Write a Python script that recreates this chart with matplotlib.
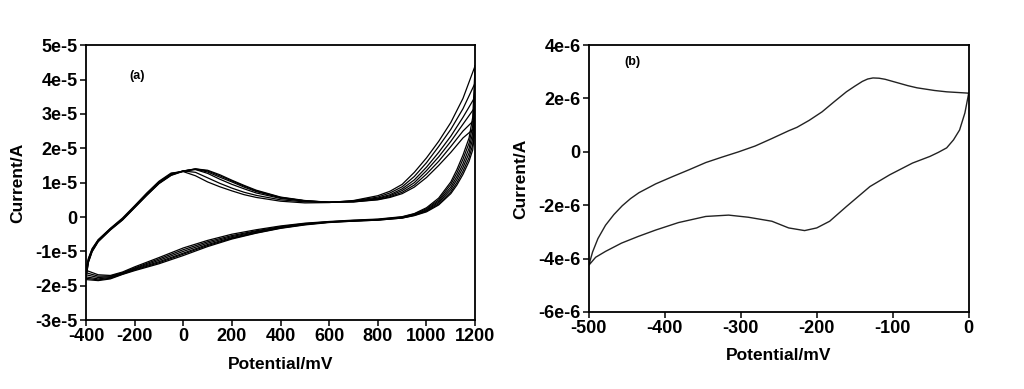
import numpy as np
import matplotlib
matplotlib.use("Agg")
import matplotlib.pyplot as plt

plt.rcParams['font.family'] = ['Liberation Sans', 'DejaVu Sans']
plt.rcParams['font.weight'] = 'bold'
plt.rcParams['axes.unicode_minus'] = False

## (a) repeated cycles, current in units of 1e-5 A

pot_fwd_a = [-400, -390, -375, -350, -300, -250, -200, -150, -100, -50, 0, 50, 100, 150, 200,
             250, 300, 400, 500, 600, 700, 800, 850, 900, 950, 1000, 1050, 1100, 1150, 1200]
cur_fwd_a = [
    [-1.50, -1.20, -0.92, -0.66, -0.33, -0.03, 0.33, 0.70, 1.04, 1.28, 1.32, 1.20, 1.02, 0.88, 0.76,
     0.65, 0.57, 0.46, 0.41, 0.42, 0.48, 0.62, 0.75, 0.95, 1.30, 1.72, 2.20, 2.75, 3.45, 4.40],
    [-1.55, -1.22, -0.94, -0.67, -0.34, -0.05, 0.31, 0.68, 1.02, 1.26, 1.34, 1.30, 1.14, 0.98, 0.84,
     0.72, 0.63, 0.50, 0.44, 0.43, 0.47, 0.58, 0.70, 0.88, 1.18, 1.58, 2.05, 2.55, 3.15, 3.90],
    [-1.62, -1.25, -0.96, -0.68, -0.35, -0.06, 0.30, 0.66, 1.00, 1.24, 1.34, 1.38, 1.27, 1.10, 0.95,
     0.82, 0.70, 0.54, 0.46, 0.43, 0.46, 0.55, 0.65, 0.82, 1.08, 1.45, 1.88, 2.35, 2.90, 3.50],
    [-1.68, -1.28, -0.98, -0.70, -0.36, -0.07, 0.29, 0.65, 0.99, 1.23, 1.34, 1.39, 1.31, 1.16, 1.02,
     0.87, 0.74, 0.56, 0.47, 0.43, 0.45, 0.53, 0.62, 0.77, 1.00, 1.35, 1.75, 2.20, 2.70, 3.20],
    [-1.74, -1.30, -1.00, -0.71, -0.37, -0.08, 0.28, 0.64, 0.98, 1.22, 1.34, 1.40, 1.34, 1.20, 1.05,
     0.90, 0.76, 0.57, 0.47, 0.43, 0.44, 0.51, 0.59, 0.72, 0.93, 1.25, 1.62, 2.05, 2.50, 2.85],
    [-1.78, -1.32, -1.01, -0.72, -0.38, -0.09, 0.27, 0.63, 0.97, 1.21, 1.33, 1.40, 1.36, 1.23, 1.07,
     0.92, 0.78, 0.58, 0.48, 0.43, 0.44, 0.50, 0.57, 0.68, 0.87, 1.15, 1.50, 1.88, 2.30, 2.60],
]

pot_rev_a = [1200, 1190, 1175, 1150, 1125, 1100, 1050, 1000, 950, 900, 800, 700, 600, 500, 400,
             300, 200, 100, 0, -100, -200, -250, -300, -350, -400]
cur_rev_a = [
    [4.40, 2.90, 2.30, 1.80, 1.38, 1.02, 0.55, 0.27, 0.10, 0.01, -0.06, -0.09, -0.13, -0.18, -0.26,
     -0.37, -0.50, -0.68, -0.90, -1.18, -1.45, -1.60, -1.70, -1.68, -1.55],
    [3.90, 2.65, 2.15, 1.68, 1.28, 0.95, 0.50, 0.24, 0.09, 0.00, -0.07, -0.10, -0.14, -0.19, -0.28,
     -0.40, -0.54, -0.72, -0.95, -1.22, -1.48, -1.62, -1.72, -1.72, -1.62],
    [3.50, 2.45, 2.00, 1.55, 1.18, 0.87, 0.46, 0.21, 0.07, -0.01, -0.08, -0.11, -0.14, -0.20, -0.30,
     -0.42, -0.57, -0.76, -1.00, -1.26, -1.50, -1.64, -1.74, -1.76, -1.68],
    [3.20, 2.28, 1.86, 1.44, 1.09, 0.80, 0.42, 0.19, 0.06, -0.02, -0.08, -0.11, -0.15, -0.21, -0.31,
     -0.44, -0.60, -0.80, -1.05, -1.30, -1.52, -1.65, -1.76, -1.80, -1.74],
    [2.85, 2.10, 1.73, 1.33, 1.00, 0.73, 0.38, 0.17, 0.05, -0.03, -0.09, -0.12, -0.15, -0.22, -0.32,
     -0.46, -0.62, -0.83, -1.08, -1.33, -1.54, -1.66, -1.78, -1.83, -1.78],
    [2.60, 1.95, 1.62, 1.24, 0.93, 0.68, 0.35, 0.15, 0.04, -0.03, -0.09, -0.12, -0.16, -0.23, -0.33,
     -0.47, -0.64, -0.86, -1.12, -1.36, -1.56, -1.67, -1.80, -1.85, -1.82],
]

xticks_a = [-400, -200, 0, 200, 400, 600, 800, 1000, 1200]
yticks_a = [-3e-5, -2e-5, -1e-5, 0, 1e-5, 2e-5, 3e-5, 4e-5, 5e-5]
ylabels_a = ['-3e-5', '-2e-5', '-1e-5', '0', '1e-5', '2e-5', '3e-5', '4e-5', '5e-5']

## (b) single cycle, current in units of 1e-6 A

pot_b = [0, -1, -5, -12, -20, -29, -40, -51, -74, -104, -130, -161, -183, -200, -216, -237, -259,
         -290, -316, -346, -382, -412, -435, -457, -478, -491, -500,
         -495, -488, -478, -467, -456, -445, -434, -412, -390, -368, -346, -325, -303, -281, -259,
         -237, -226, -210, -193, -177, -161, -150, -140, -133, -126, -118, -110, -95, -80, -68,
         -45, -29, 0]
cur_b = [2.20, 2.05, 1.46, 0.82, 0.45, 0.15, -0.02, -0.17, -0.42, -0.86, -1.30, -2.05, -2.60,
         -2.85, -2.95, -2.85, -2.60, -2.45, -2.37, -2.42, -2.65, -2.93, -3.17, -3.42, -3.73, -3.95,
         -4.25,
         -3.75, -3.25, -2.75, -2.35, -2.02, -1.75, -1.53, -1.20, -0.93, -0.67, -0.40, -0.20, 0.00,
         0.22, 0.50, 0.79, 0.92, 1.18, 1.50, 1.88, 2.25, 2.46, 2.64, 2.73, 2.77, 2.76, 2.72, 2.60,
         2.48, 2.40, 2.30, 2.25, 2.20]

xticks_b = [-500, -400, -300, -200, -100, 0]
yticks_b = [-6e-6, -4e-6, -2e-6, 0, 2e-6, 4e-6]
ylabels_b = ['-6e-6', '-4e-6', '-2e-6', '0', '2e-6', '4e-6']


def style(ax):
    for s in ax.spines.values():
        s.set_linewidth(1.3)
    ax.tick_params(direction='out', length=4, width=1.1, labelsize=13, pad=2,
                   top=False, right=False)
    for lab in ax.get_xticklabels() + ax.get_yticklabels():
        lab.set_fontweight('bold')


fig = plt.figure(figsize=(10.24, 3.89), dpi=100)
ax1 = fig.add_axes([0.084, 0.177, 0.380, 0.707])
ax2 = fig.add_axes([0.575, 0.198, 0.371, 0.686])

for f, r in zip(cur_fwd_a, cur_rev_a):
    ax1.plot(pot_fwd_a, np.array(f) * 1e-5, color='black', lw=0.9)
    ax1.plot(pot_rev_a, np.array(r) * 1e-5, color='black', lw=0.9)
ax1.set_xlim(-400, 1200)
ax1.set_ylim(-3e-5, 5e-5)
ax1.set_xticks(xticks_a)
ax1.set_yticks(yticks_a)
ax1.set_yticklabels(ylabels_a)
ax1.set_xlabel('Potential/mV', fontsize=12.5, fontweight='bold', labelpad=8)
ax1.set_ylabel('Current/A', fontsize=12.5, fontweight='bold', labelpad=7)
ax1.text(-190, 4.1e-5, '(a)', fontsize=9, fontweight='bold', ha='center', va='center')
style(ax1)

ax2.plot(pot_b, np.array(cur_b) * 1e-6, color='#222222', lw=1.0)
ax2.set_xlim(-500, 0)
ax2.set_ylim(-6e-6, 4e-6)
ax2.set_xticks(xticks_b)
ax2.set_yticks(yticks_b)
ax2.set_yticklabels(ylabels_b)
ax2.set_xlabel('Potential/mV', fontsize=12.5, fontweight='bold', labelpad=8)
ax2.set_ylabel('Current/A', fontsize=12.5, fontweight='bold', labelpad=7)
ax2.text(-443, 3.37e-6, '(b)', fontsize=9, fontweight='bold', ha='center', va='center')
style(ax2)

fig.savefig('out.png', dpi=100)
